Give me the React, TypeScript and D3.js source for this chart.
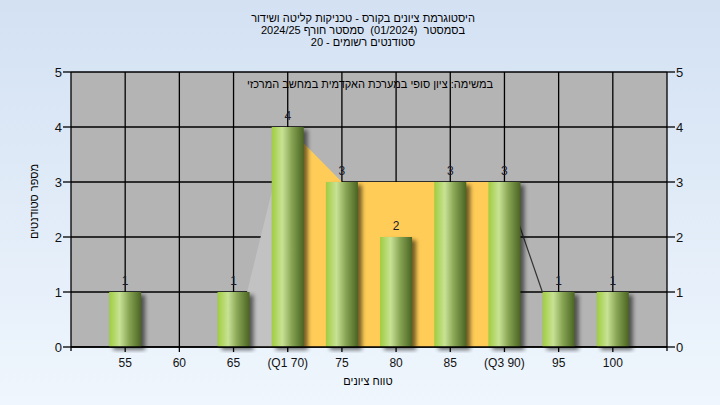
import React from "react";
import * as d3 from "d3";

const categories = [55, 60, 65, 70, 75, 80, 85, 90, 95, 100];
const tickLabels = ["55", "60", "65", "(Q1 70)", "75", "80", "85", "(Q3 90)", "95", "100"];
const counts = [1, 0, 1, 4, 3, 2, 3, 3, 1, 1];
const iqrScores = [70, 75, 80, 85, 90];
const iqrValues = [4, 3, 3, 3, 3];
const lowWhisker = [
  { s: 66.25, v: 1 },
  { s: 70, v: 4 },
];
const highWhisker = [
  { s: 90, v: 3 },
  { s: 93.5, v: 1 },
];
const yTicks = [0, 1, 2, 3, 4, 5];
const titleLines = [
  "היסטוגרמת ציונים בקורס - טכניקות קליטה ושידור",
  "בסמסטר  (01/2024)  סמסטר חורף 2024/25",
  "סטודנטים רשומים - 20",
];
const subtitle = "במשימה: ציון סופי במערכת האקדמית במחשב המרכזי";
const xTitle = "טווח ציונים";
const yTitle = "מספר סטודנטים";

const W = 720;
const H = 405;
const L = 71;
const R = 667;
const T = 72;
const B = 347;
const FONT = "'Liberation Sans', 'DejaVu Sans', Arial, sans-serif";

export default function App() {
  const x = d3.scaleLinear().domain([50, 105]).range([L, R]);
  const y = d3.scaleLinear().domain([0, 5]).range([B, T]);
  const barW = 32;

  const area = d3
    .area<{ s: number; v: number }>()
    .x((d) => x(d.s))
    .y0(y(0))
    .y1((d) => y(d.v));
  const line = d3
    .line<{ s: number; v: number }>()
    .x((d) => x(d.s))
    .y((d) => y(d.v));

  const iqrData = iqrScores.map((s, i) => ({ s, v: iqrValues[i] }));

  return (
    <svg
      width={W}
      height={H}
      style={{ position: "absolute", left: 0, top: 0, display: "block" }}
      fontFamily={FONT}
    >
      <defs>
        <linearGradient id="bg" x1="0" y1="0" x2="0" y2="1">
          <stop offset="0" stopColor="#d3e1f3" />
          <stop offset="1" stopColor="#eff6fd" />
        </linearGradient>
        <linearGradient id="bar" x1="0" y1="0" x2="1" y2="0">
          <stop offset="0" stopColor="#9fcd3f" />
          <stop offset="0.33" stopColor="#c8e295" />
          <stop offset="0.62" stopColor="#88a554" />
          <stop offset="1" stopColor="#4a6422" />
        </linearGradient>
        <filter id="blur" x="-50%" y="-20%" width="200%" height="140%">
          <feGaussianBlur stdDeviation="2" />
        </filter>
        <clipPath id="plotClip">
          <rect x={L} y={T} width={R - L} height={B - T + 6} />
        </clipPath>
      </defs>
      <rect x={0} y={0} width={W} height={H} fill="url(#bg)" />
      <rect x={L} y={T} width={R - L} height={B - T} fill="#b4b4b4" />

      {/* grid */}
      {yTicks.map((t) => (
        <line key={"gy" + t} x1={L} x2={R} y1={y(t)} y2={y(t)} stroke="#000" strokeWidth={1.3} />
      ))}
      {categories.map((c) => (
        <line key={"gx" + c} x1={x(c)} x2={x(c)} y1={T} y2={B} stroke="#000" strokeWidth={1.3} />
      ))}

      {/* quartile overlays */}
      <path d={area(lowWhisker) || ""} fill="#c2c2c2" />
      <path d={area(iqrData) || ""} fill="#ffcc57" />
      <path d={line(highWhisker) || ""} fill="none" stroke="#333" strokeWidth={1.2} />

      {/* bars */}
      <g clipPath="url(#plotClip)">
        {categories.map((c, i) =>
          counts[i] > 0 ? (
            <rect
              key={"s" + c}
              x={x(c) - barW / 2 + 4}
              y={y(counts[i]) + 3}
              width={barW}
              height={B - y(counts[i])}
              fill="#000"
              opacity={0.55}
              filter="url(#blur)"
            />
          ) : null
        )}
      </g>
      {categories.map((c, i) =>
        counts[i] > 0 ? (
          <rect
            key={"b" + c}
            x={x(c) - barW / 2}
            y={y(counts[i])}
            width={barW}
            height={B - y(counts[i])}
            fill="url(#bar)"
          />
        ) : null
      )}
      {categories.map((c, i) =>
        counts[i] > 0 ? (
          <text
            key={"v" + c}
            x={x(c)}
            y={y(counts[i]) - 7}
            textAnchor="middle"
            fontSize={12}
            fill="#1a1a2a"
          >
            {counts[i]}
          </text>
        ) : null
      )}

      {/* axes */}
      <line x1={L} x2={L} y1={T} y2={B + 4} stroke="#000" strokeWidth={1.3} />
      <line x1={R} x2={R} y1={T} y2={B + 4} stroke="#000" strokeWidth={1.3} />
      <line x1={L} x2={R} y1={B} y2={B} stroke="#000" strokeWidth={1.3} />
      {yTicks.map((t) => (
        <g key={"yt" + t}>
          <line x1={L - 8} x2={L} y1={y(t)} y2={y(t)} stroke="#000" strokeWidth={1.3} />
          <line x1={R} x2={R + 8} y1={y(t)} y2={y(t)} stroke="#000" strokeWidth={1.3} />
          <text x={L - 9} y={y(t)} dy="0.35em" textAnchor="end" fontSize={13} fill="#111">
            {t}
          </text>
          <text x={R + 9} y={y(t)} dy="0.35em" textAnchor="start" fontSize={13} fill="#111">
            {t}
          </text>
        </g>
      ))}
      {categories.map((c, i) => (
        <g key={"xt" + c}>
          <line x1={x(c)} x2={x(c)} y1={B} y2={B + 5} stroke="#000" strokeWidth={1.3} />
          <text x={x(c)} y={B + 16} dy="0.35em" textAnchor="middle" fontSize={12} fill="#111">
            {tickLabels[i]}
          </text>
        </g>
      ))}

      {/* titles */}
      {titleLines.map((t, i) => (
        <text
          key={"t" + i}
          x={363}
          y={18 + i * 12}
          dy="0.35em"
          textAnchor="middle"
          direction="rtl"
          fontSize={11}
          fill="#000"
          style={{ whiteSpace: "pre" }}
        >
          {t}
        </text>
      ))}
      <text x={370} y={84} dy="0.35em" textAnchor="middle" direction="rtl" fontSize={11} fill="#000">
        {subtitle}
      </text>
      <text x={368} y={381} dy="0.35em" textAnchor="middle" direction="rtl" fontSize={11} fill="#000">
        {xTitle}
      </text>
      <text
        transform={`translate(34,${(T + B) / 2 - 8}) rotate(-90)`}
        dy="0.35em"
        textAnchor="middle"
        direction="rtl"
        fontSize={11}
        fill="#000"
      >
        {yTitle}
      </text>
    </svg>
  );
}
